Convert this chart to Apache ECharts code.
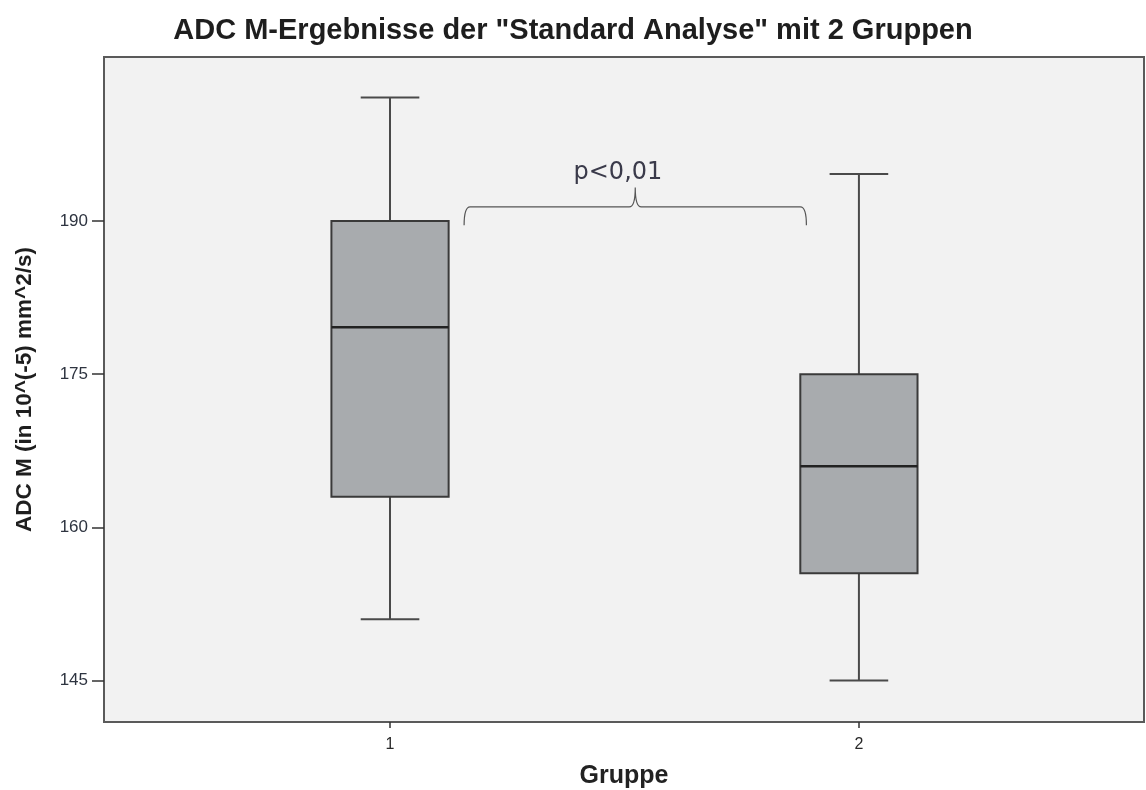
<!DOCTYPE html>
<html>
<head>
<meta charset="utf-8">
<title>ADC M-Ergebnisse</title>
<script src="https://cdn.jsdelivr.net/npm/echarts@6/dist/echarts.min.js"></script>
<style>
  html, body { margin: 0; padding: 0; background: #ffffff; }
  #chart { width: 1146px; height: 790px; }
</style>
</head>
<body>
<div id="chart"></div>
<script>
// Group labels and their positions on the x scale
const groups = ['1', '2'];
const groupPos = [1, 2];

// Five-number summaries per group (ADC M, 10^-5 mm^2/s)
const whiskerLow = [151.0, 145.0];
const quartile1 = [163.0, 155.5];
const medians = [179.6, 166.0];
const quartile3 = [190.0, 175.0];
const whiskerHigh = [202.1, 194.6];

// Axis ticks
const yTicks = [145, 160, 175, 190];
const xTicks = [1, 2];

// Significance bracket between the groups
const bracketFrom = 1.158;
const bracketTo = 1.888;
const bracketLineY = 191.4;
const bracketEndY = 189.6;
const bracketTipY = 193.3;
const bracketLabelX = 1.486;
const bracketLabelY = 194.7;
const bracketLabel = 'p<0,01';

const boxData = groupPos.map((x, i) => [x, whiskerLow[i], quartile1[i], medians[i], quartile3[i], whiskerHigh[i]]);

const BOX_W = 0.25;   // box width in x units
const CAP_W = 0.125;  // whisker cap width in x units

function renderBox(params, api) {
  const x = api.value(0);
  const lo = api.coord([x, api.value(1)]);
  const q1 = api.coord([x, api.value(2)]);
  const md = api.coord([x, api.value(3)]);
  const q3 = api.coord([x, api.value(4)]);
  const hi = api.coord([x, api.value(5)]);
  const bw = api.size([BOX_W, 0])[0];
  const cw = api.size([CAP_W, 0])[0];
  const cx = md[0];
  const lineStyle = { stroke: '#4a4a4a', lineWidth: 2 };
  return {
    type: 'group',
    children: [
      { type: 'line', shape: { x1: cx, y1: hi[1], x2: cx, y2: q3[1] }, style: lineStyle },
      { type: 'line', shape: { x1: cx, y1: q1[1], x2: cx, y2: lo[1] }, style: lineStyle },
      { type: 'line', shape: { x1: cx - cw / 2, y1: hi[1], x2: cx + cw / 2, y2: hi[1] }, style: lineStyle },
      { type: 'line', shape: { x1: cx - cw / 2, y1: lo[1], x2: cx + cw / 2, y2: lo[1] }, style: lineStyle },
      {
        type: 'rect',
        shape: { x: cx - bw / 2, y: q3[1], width: bw, height: q1[1] - q3[1] },
        style: { fill: '#a8abae', stroke: '#3a3a3a', lineWidth: 2 }
      },
      { type: 'line', shape: { x1: cx - bw / 2, y1: md[1], x2: cx + bw / 2, y2: md[1] }, style: { stroke: '#222222', lineWidth: 2.5 } }
    ]
  };
}

function renderBracket(params, api) {
  const L = api.coord([bracketFrom, bracketLineY]);
  const R = api.coord([bracketTo, bracketLineY]);
  const endY = api.coord([bracketFrom, bracketEndY])[1];
  const tipY = api.coord([bracketFrom, bracketTipY])[1];
  const y = L[1];
  const tx = (L[0] + R[0]) / 2;
  const r = 6;
  const path =
    'M' + L[0] + ',' + endY +
    ' Q' + L[0] + ',' + y + ' ' + (L[0] + r) + ',' + y +
    ' L' + (tx - r) + ',' + y +
    ' Q' + tx + ',' + y + ' ' + tx + ',' + tipY +
    ' Q' + tx + ',' + y + ' ' + (tx + r) + ',' + y +
    ' L' + (R[0] - r) + ',' + y +
    ' Q' + R[0] + ',' + y + ' ' + R[0] + ',' + endY;
  const lp = api.coord([bracketLabelX, bracketLabelY]);
  return {
    type: 'group',
    children: [
      { type: 'path', shape: { pathData: path }, style: { fill: 'none', stroke: '#555555', lineWidth: 1.2 } },
      {
        type: 'text',
        x: lp[0], y: lp[1],
        style: {
          text: bracketLabel, fill: '#3a3a4a',
          font: '24px "DejaVu Sans"',
          align: 'center', verticalAlign: 'middle'
        }
      }
    ]
  };
}

const chart = echarts.init(document.getElementById('chart'), null, { renderer: 'canvas' });

chart.setOption({
  backgroundColor: '#ffffff',
  animation: false,
  title: {
    text: 'ADC M-Ergebnisse der "Standard Analyse" mit 2 Gruppen',
    left: 'center',
    top: 11,
    textStyle: { fontFamily: 'Liberation Sans', fontWeight: 'bold', fontSize: 29, color: '#1e1e1e' }
  },
  grid: {
    left: 104, right: 2, top: 57, bottom: 68,
    containLabel: false,
    outerBoundsMode: 'none',
    show: true,
    backgroundColor: '#f2f2f2',
    borderColor: '#5a5a5a',
    borderWidth: 2
  },
  xAxis: {
    type: 'value',
    min: 0.39, max: 2.608,
    name: 'Gruppe',
    nameLocation: 'middle',
    nameGap: 42,
    nameTextStyle: { fontFamily: 'Liberation Sans', fontWeight: 'bold', fontSize: 25, color: '#222222' },
    splitLine: { show: false },
    axisLine: { show: false },
    axisTick: { show: true, customValues: xTicks, length: 6, lineStyle: { color: '#333333', width: 1.5 } },
    axisLabel: {
      customValues: xTicks,
      formatter: v => groups[groupPos.indexOf(v)],
      fontFamily: 'Liberation Sans', fontSize: 16, color: '#2a2a2a', margin: 15
    }
  },
  yAxis: {
    type: 'value',
    min: 140.94, max: 206.07,
    name: 'ADC M (in 10^(-5) mm^2/s)',
    nameLocation: 'middle',
    nameGap: 68,
    nameTextStyle: { fontFamily: 'Liberation Sans', fontWeight: 'bold', fontSize: 22.5, color: '#1e1e1e' },
    splitLine: { show: false },
    axisLine: { show: false },
    axisTick: { show: true, customValues: yTicks, length: 12, lineStyle: { color: '#333333', width: 1.5 } },
    axisLabel: {
      customValues: yTicks,
      fontFamily: 'Liberation Sans', fontSize: 17, color: '#2e3440', margin: 16
    }
  },
  series: [
    {
      type: 'custom',
      name: 'ADC M',
      renderItem: renderBox,
      data: boxData,
      encode: { x: 0, y: [1, 2, 3, 4, 5] },
      z: 3
    },
    {
      type: 'custom',
      name: 'Signifikanz',
      renderItem: renderBracket,
      data: [[bracketFrom, bracketLineY]],
      encode: { x: 0, y: 1 },
      z: 4
    }
  ]
});
</script>
</body>
</html>
